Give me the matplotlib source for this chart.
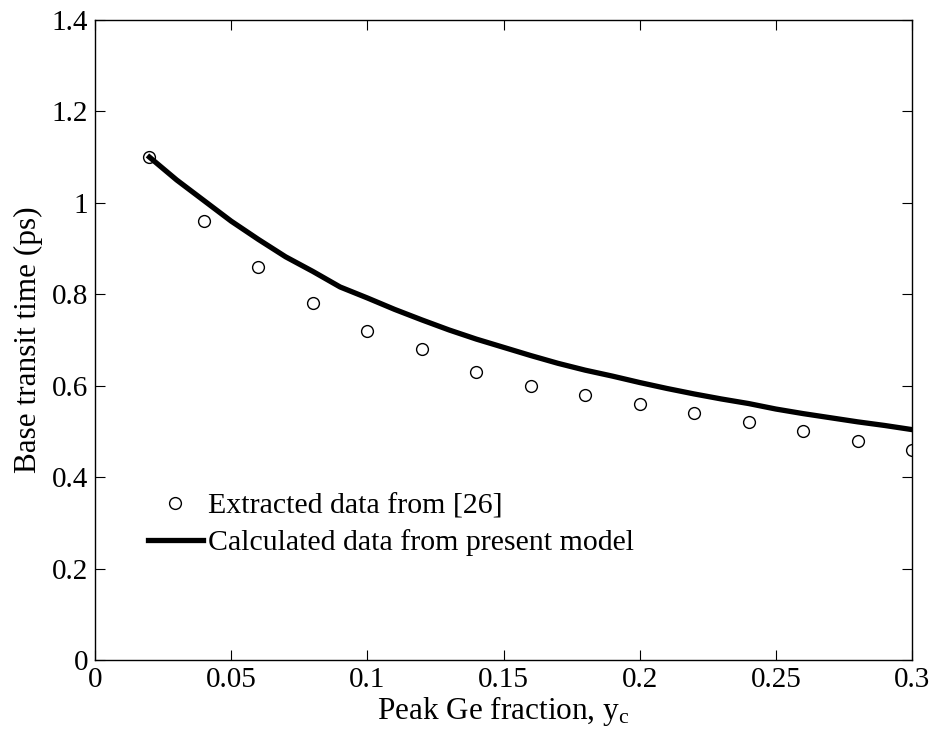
import matplotlib
matplotlib.use("Agg")
import matplotlib.pyplot as plt

plt.rcParams['font.family'] = ['Liberation Serif', 'DejaVu Serif']
plt.rcParams['mathtext.fontset'] = 'custom'
plt.rcParams['mathtext.rm'] = 'Liberation Serif'
plt.rcParams['mathtext.it'] = 'Liberation Serif:italic'

# Extracted data from [26]
x_ext = [0.02, 0.04, 0.06, 0.08, 0.10, 0.12, 0.14, 0.16, 0.18, 0.20, 0.22, 0.24, 0.26, 0.28, 0.30]
y_ext = [1.10, 0.96, 0.86, 0.78, 0.72, 0.68, 0.63, 0.60, 0.58, 0.56, 0.54, 0.52, 0.50, 0.48, 0.46]

# Calculated data from present model
x_mod = [0.02, 0.03, 0.04, 0.05, 0.06, 0.07, 0.08, 0.09, 0.10, 0.11, 0.12, 0.13, 0.14, 0.15,
         0.16, 0.17, 0.18, 0.19, 0.20, 0.21, 0.22, 0.23, 0.24, 0.25, 0.26, 0.27, 0.28, 0.29, 0.30]
y_mod = [1.10, 1.05, 1.005, 0.96, 0.92, 0.882, 0.85, 0.816, 0.792, 0.767, 0.744, 0.722, 0.702, 0.684,
         0.666, 0.649, 0.634, 0.621, 0.607, 0.594, 0.582, 0.571, 0.561, 0.549, 0.539, 0.530, 0.521, 0.513, 0.504]

xticks = [0, 0.05, 0.1, 0.15, 0.2, 0.25, 0.3]
xticklabels = ['0', '0.05', '0.1', '0.15', '0.2', '0.25', '0.3']
yticks = [0, 0.2, 0.4, 0.6, 0.8, 1.0, 1.2, 1.4]
yticklabels = ['0', '0.2', '0.4', '0.6', '0.8', '1', '1.2', '1.4']

fig = plt.figure(figsize=(9.33, 7.45), dpi=100)
ax = fig.add_axes([95/933, 85/745, 817/933, 640/745])

ax.plot(x_ext, y_ext, linestyle='none', marker='o', markersize=8.5, markerfacecolor='none',
        markeredgecolor='black', markeredgewidth=1.0, label='Extracted data from [26]')
ax.plot(x_mod, y_mod, color='black', linewidth=3.8, label='Calculated data from present model')

ax.set_xlim(0, 0.3)
ax.set_ylim(0, 1.4)
ax.set_xticks(xticks)
ax.set_xticklabels(xticklabels)
ax.set_yticks(yticks)
ax.set_yticklabels(yticklabels)
ax.tick_params(direction='in', length=7, width=0.8, top=True, right=True, labelsize=21, pad=5)
for s in ax.spines.values():
    s.set_linewidth(1.0)

ax.set_xlabel(r'Peak Ge fraction, y$_\mathrm{c}$', fontsize=22.5, labelpad=1)
ax.set_ylabel('Base transit time (ps)', fontsize=22.5, labelpad=6)

handles, labels = ax.get_legend_handles_labels()
leg = fig.legend(handles=handles, labels=labels,
                 loc='upper left', bbox_to_anchor=(148/933, (745-493)/745), frameon=False, fontsize=21.5,
                 handlelength=1.84, handletextpad=0.17, labelspacing=0.32, borderpad=0, borderaxespad=0)

fig.savefig('out.png', dpi=100)
